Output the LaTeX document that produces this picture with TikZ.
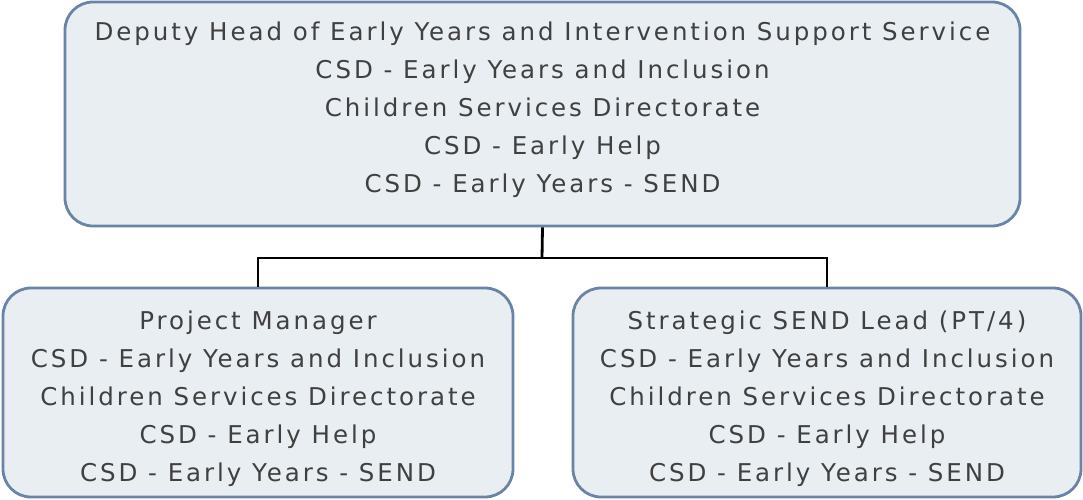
\documentclass[tikz,border=0pt]{standalone}
\usepackage{fontspec}
\newfontfamily\orgfont[LetterSpace=12]{DejaVu Sans}
\definecolor{boxfill}{HTML}{E9EEF2}
\definecolor{boxline}{HTML}{6A84A8}
\definecolor{txt}{HTML}{404040}
\begin{document}
\begin{tikzpicture}[x=1pt,y=-1pt,
  orgbox/.style={draw=boxline,fill=boxfill,line width=2.8pt,rounded corners=28pt,inner sep=0pt},
  orgtext/.style={align=center,text=txt,inner sep=0pt,
    font=\orgfont\fontsize{24.5}{38}\selectfont},
  link/.style={draw=black,line width=2.8pt}]
\useasboundingbox (0,0) rectangle (1083,500);
\node[orgbox,minimum width=955pt,minimum height=224pt] (top) at (542.5,114) {};
\node[orgbox,minimum width=510pt,minimum height=209pt] (left) at (258,392.5) {};
\node[orgbox,minimum width=508pt,minimum height=209pt] (right) at (827,392.5) {};
\node[orgtext] (toptext) at (542.5,110) {Deputy Head of Early Years and Intervention Support Service\\CSD - Early Years and Inclusion\\Children Services Directorate\\CSD - Early Help\\CSD - Early Years - SEND};
\node[orgtext] (lefttext) at (258,398.5) {Project Manager\\CSD - Early Years and Inclusion\\Children Services Directorate\\CSD - Early Help\\CSD - Early Years - SEND};
\node[orgtext] (righttext) at (827,398.5) {Strategic SEND Lead (PT/4)\\CSD - Early Years and Inclusion\\Children Services Directorate\\CSD - Early Help\\CSD - Early Years - SEND};
\coordinate (mid) at (542,258);
\draw[link] (top.south) -- (mid);
\draw[link] (left.north) |- (mid) -| (right.north);
\end{tikzpicture}
\end{document}
